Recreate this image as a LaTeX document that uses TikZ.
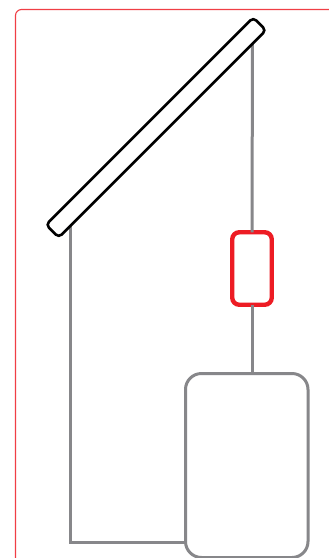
\documentclass[tikz,border=0pt]{standalone}
\usepackage{xcolor}
\definecolor{pipegray}{RGB}{135,135,138}
\definecolor{pumpred}{RGB}{237,28,36}

\begin{document}
\begin{tikzpicture}[
    x=1pt, y=-1pt,
    box/.style={rectangle, draw, fill=white, inner sep=0pt, outer sep=0pt},
    frame/.style={box, draw=pumpred!85, line width=1.1pt, rounded corners=6pt, minimum width=340pt, minimum height=580pt},
    collector/.style={box, line width=2.6pt, rounded corners=4pt, minimum width=293pt, minimum height=18pt, rotate=45},
    pump/.style={box, draw=pumpred, line width=4.4pt, rounded corners=7pt, minimum width=39.5pt, minimum height=72.5pt},
    tank/.style={box, draw=pipegray, line width=3pt, rounded corners=16pt, minimum width=122.5pt, minimum height=184pt},
    pipe/.style={draw=pipegray, line width=3pt}
]
\clip (0,0) rectangle (329,558);

\node[frame] (casing) at (185.5,299.5) {};

\coordinate (flowtop) at (252.5,40);
\coordinate (returntop) at (70.5,215);

\node[pump] (circulator) at (252,268.5) {};
\node[tank] (storage) at (246.75,465.5) {};
\coordinate (returnin) at (storage.west |- 0,542);

\draw[pipe] (flowtop) -- (circulator.north);
\draw[pipe] (circulator.south) -- (storage.north -| circulator.south);
\draw[pipe] (returntop) |- (returnin);

\node[collector] (panel) at (156,127.5) {};

\end{tikzpicture}
\end{document}
